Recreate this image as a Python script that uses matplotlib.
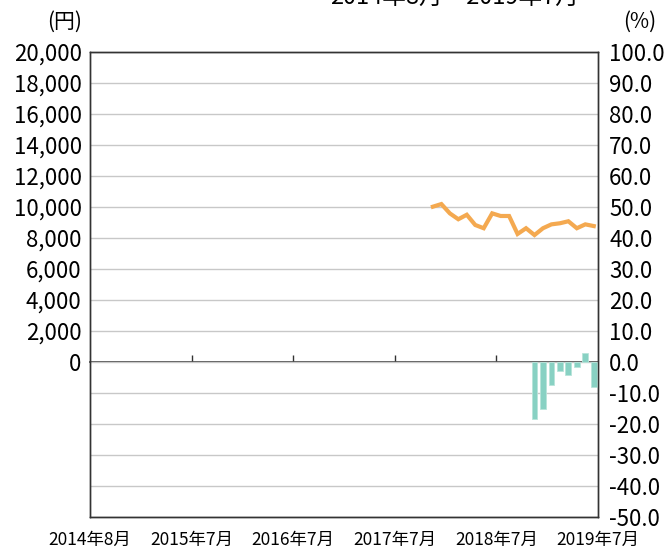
import numpy as np
from matplotlib import pyplot as plt

plt.rcParams['font.family'] = ['Noto Sans CJK JP', 'DejaVu Sans']

# monthly index: 0 = 2014-08 ... 59 = 2019-07
months = np.arange(60)
price_idx = np.arange(40, 60)
price = [10020, 10190, 9590, 9210, 9500, 8840, 8630, 9590, 9420, 9420,
         8260, 8630, 8190, 8630, 8880, 8950, 9080, 8630, 8880, 8770]
chg_idx = np.arange(52, 60)
chg = [-18.4, -15.2, -7.5, -2.8, -4.1, -1.7, 2.8, -8.2]

xtick_pos = [0, 12, 24, 36, 48, 60]
xtick_lab = ['2014年8月', '2015年7月', '2016年7月', '2017年7月', '2018年7月', '2019年7月']

fig = plt.figure(figsize=(6.7, 5.5), dpi=100)
ax = fig.add_axes([90/670, 1-517/550, 508/670, 465/550])
ax2 = ax.twinx()

ax.set_xlim(0, 60)
ax.set_ylim(-10000, 20000)
ax2.set_ylim(-50, 100)

yt = np.arange(-10000, 20001, 2000)
ax.set_yticks(yt)
ax.set_yticklabels(['' if v < 0 else f'{v:,}' for v in yt], fontsize=16)
ax.grid(axis='y', color='#c8c8c8', lw=1)
ax.set_axisbelow(True)

ax2.set_yticks(np.arange(-50, 101, 10))
ax2.set_yticklabels([f'{v:.1f}' for v in np.arange(-50, 101, 10)], fontsize=16)

ax.set_xticks(xtick_pos)
ax.set_xticklabels(xtick_lab, fontsize=12.5)
ax.tick_params(axis='both', length=0, pad=6)
ax2.tick_params(axis='y', length=0, pad=8)
ax.tick_params(axis='x', pad=10)

for a in (ax, ax2):
    for s in a.spines.values():
        s.set_color('#333333')
        s.set_linewidth(1)

# zero line with small month ticks
zero = ax.secondary_xaxis(1/3)
zero.set_xticks(xtick_pos[1:-1])
zero.set_xticklabels([])
zero.tick_params(direction='in', length=5, color='#333333', width=1)
zero.spines['bottom'].set_color('#333333')
zero.spines['bottom'].set_linewidth(1.2)

ax.plot(price_idx + 0.5, price, color='#F4A950', lw=3, solid_joinstyle='miter', zorder=3)
ax2.bar(chg_idx + 0.5, chg, width=0.68, color='#88D1C3', edgecolor='#B8E4DA', lw=0.6)

fig.text(65/670, 1-22/550, '(円)', fontsize=15, ha='center', va='center')
fig.text(640/670, 1-22/550, '(%)', fontsize=15, ha='center', va='center')
fig.text(455/670, 1-5/550, '2014年8月～2019年7月', fontsize=17, ha='center', va='baseline')

fig.savefig('out.png', dpi=100)
